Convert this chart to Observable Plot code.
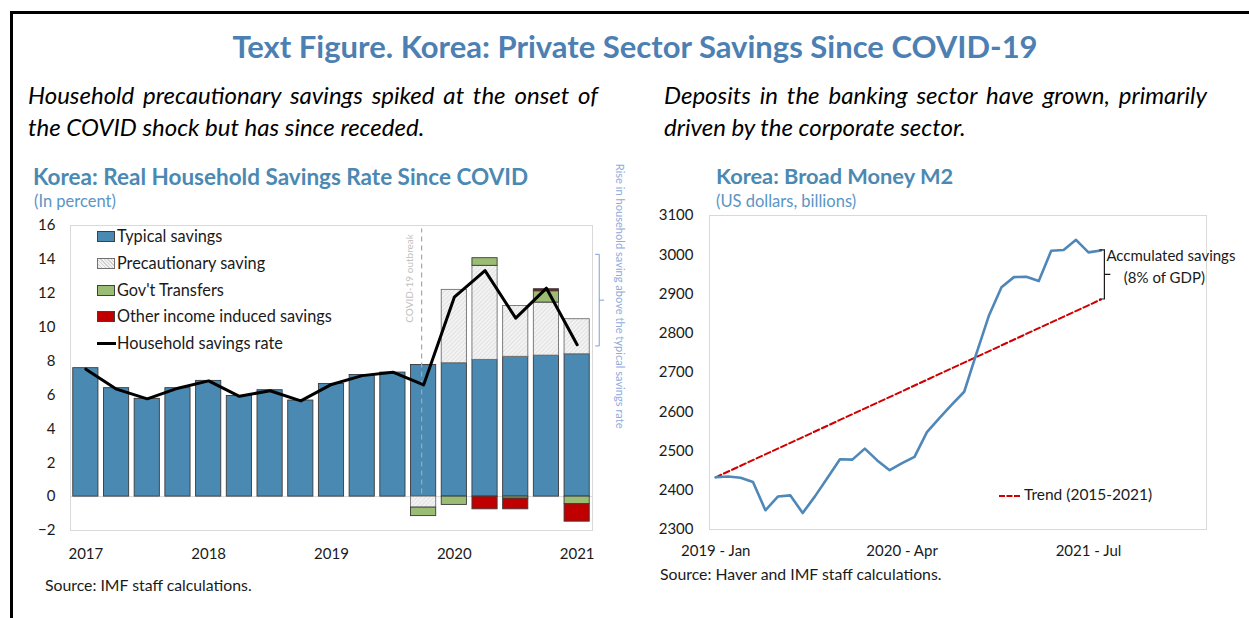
<!DOCTYPE html>
<html>
<head>
<meta charset="utf-8">
<script src="https://cdn.jsdelivr.net/npm/d3@7"></script>
<script src="https://cdn.jsdelivr.net/npm/@observablehq/plot@0.6"></script>
<style>
  html, body { margin: 0; padding: 0; background: #fff; }
  #page { position: relative; width: 1249px; height: 618px; overflow: hidden; font-family: Lato, "Open Sans", sans-serif; color: #000; }
  .abs { position: absolute; white-space: nowrap; line-height: 1.2; }
  .title { font-weight: 700; color: #4d80b2; font-size: 31px; }
  .lead { font-style: italic; font-size: 24px; }
  .lead.just { text-align: justify; text-align-last: justify; }
  .ctitle { font-weight: 700; color: #4b89b3; font-size: 22.5px; }
  .csub { color: #5b95c4; font-size: 16.5px; }
  .src { font-size: 15.8px; color: #1a1a1a; }
  .leg { font-size: 16.3px; color: #1a1a1a; }
  .sw { position: absolute; width: 18px; height: 11px; box-sizing: border-box; border: 1px solid #404040; }
  svg { position: absolute; overflow: visible; }
</style>
</head>
<body>
<div id="page">
  <div class="abs" style="left:10px;top:11px;width:1239px;height:3px;background:#000"></div>
  <div class="abs" style="left:10px;top:11px;width:3px;height:607px;background:#000"></div>

  <div class="abs title" style="left:0;width:1270px;text-align:center;top:28px">Text Figure. Korea: Private Sector Savings Since COVID-19</div>

  <div class="abs lead just" style="left:28px;top:81px;width:570px">Household precautionary savings spiked at the onset of</div>
  <div class="abs lead" style="left:28px;top:113px">the COVID shock but has since receded.</div>
  <div class="abs lead just" style="left:664px;top:81px;width:543px">Deposits in the banking sector have grown, primarily</div>
  <div class="abs lead" style="left:664px;top:113px">driven by the corporate sector.</div>

  <div class="abs ctitle" style="left:33px;top:163px">Korea: Real Household Savings Rate Since COVID</div>
  <div class="abs csub" style="left:34px;top:192px">(In percent)</div>
  <div class="abs ctitle" style="left:716px;top:163px;font-size:21.8px">Korea: Broad Money M2</div>
  <div class="abs csub" style="left:716px;top:192px">(US dollars, billions)</div>

  <div id="leftChart"></div>
  <div id="rightChart"></div>
  <div id="legendLeft"></div>

  <div class="abs" style="left:999px;top:495px;width:21px;height:0;border-top:2px dashed #d00000"></div>
  <div class="abs leg" style="left:1024px;top:485px;font-size:15.5px">Trend (2015-2021)</div>

  <div class="abs src" style="left:45px;top:576px">Source: IMF staff calculations.</div>
  <div class="abs src" style="left:660px;top:565px">Source: Haver and IMF staff calculations.</div>
</div>

<script>
// ---------------- Data: left chart (quarterly, percent) ----------------
const quarters = ["2017Q1","2017Q2","2017Q3","2017Q4","2018Q1","2018Q2","2018Q3","2018Q4",
                  "2019Q1","2019Q2","2019Q3","2019Q4","2020Q1","2020Q2","2020Q3","2020Q4","2021Q1"];
const typicalSavings      = [7.58, 6.40, 5.77, 6.40, 6.83, 5.94, 6.28, 5.67, 6.65, 7.18, 7.32, 7.77, 7.87, 8.07, 8.25, 8.32, 8.40];
const precautionarySaving = [0, 0, 0, 0, 0, 0, 0, 0, 0, 0, 0, -0.65, 4.33, 5.55, 3.00, 3.13, 2.07];
const govTransfers        = [0, 0, 0, 0, 0, 0, 0, 0, 0, 0, 0, -0.50, -0.49, 0.45, -0.12, 0.67, -0.45];
const otherIncomeSavings  = [0, 0, 0, 0, 0, 0, 0, 0, 0, 0, 0, 0, 0, -0.75, -0.63, 0.12, -1.03];
const householdSavingsRate = [7.52, 6.34, 5.77, 6.40, 6.83, 5.92, 6.25, 5.65, 6.62, 7.14, 7.34, 6.59, 11.77, 13.34, 10.53, 12.30, 8.96];
const savingsSeries = ["Typical savings", "Precautionary saving", "Gov't Transfers", "Other income induced savings"];
const lineSeries = "Household savings rate";
const yearTickQuarters = ["2017Q1","2018Q1","2019Q1","2020Q1","2021Q1"];
const yearTickLabels   = ["2017","2018","2019","2020","2021"];
const leftYTicks = [-2, 0, 2, 4, 6, 8, 10, 12, 14, 16];
const covidQuarter = "2019Q4";

// ---------------- Data: right chart (monthly, US$ bn) ----------------
const m2Values = [2433, 2435, 2432, 2421, 2349, 2384, 2387, 2342, 2385, 2432, 2479, 2478,
                  2506, 2476, 2451, 2469, 2485, 2548, 2584, 2618, 2651, 2750, 2846, 2917,
                  2943, 2944, 2933, 3010, 3012, 3038, 3006, 3011];   // 2019-Jan .. 2021-Aug
const trendMonthIndex = [0, 31];
const trendValues = [2433, 2886];
const monthTickIndex  = [0, 15, 30];
const monthTickLabels = ["2019 - Jan", "2020 - Apr", "2021 - Jul"];
const rightYTicks = [2300, 2400, 2500, 2600, 2700, 2800, 2900, 3000, 3100];
const monthCategories = 40;

// ---------------- Styles ----------------
const seriesFill = {
  "Typical savings": "#4a89b1",
  "Precautionary saving": "url(#hatch)",
  "Gov't Transfers": "#9bbd73",
  "Other income induced savings": "#c00000"
};
const seriesStroke = {
  "Typical savings": "#3a3a3a",
  "Precautionary saving": "#707070",
  "Gov't Transfers": "#3a3a3a",
  "Other income induced savings": "#3a3a3a"
};

// ---------------- Left chart ----------------
const long = [];
[typicalSavings, precautionarySaving, govTransfers, otherIncomeSavings].forEach((arr, s) => {
  arr.forEach((v, i) => { if (v !== 0) long.push({q: quarters[i], series: savingsSeries[s], value: v}); });
});

const left = Plot.plot({
  width: 640, height: 430,
  marginLeft: 70, marginRight: 48, marginTop: 75, marginBottom: 50,
  style: {fontFamily: "Lato, sans-serif", fontSize: "15px", color: "#1a1a1a", background: "transparent"},
  x: {domain: quarters, paddingInner: 0.18, paddingOuter: 0.09, round: false, label: null,
      ticks: yearTickQuarters, tickFormat: q => yearTickLabels[yearTickQuarters.indexOf(q)] ?? "",
      tickSize: 0, tickPadding: 18},
  y: {domain: [-2, 16], ticks: leftYTicks, label: null, tickSize: 0, tickPadding: 15},
  color: {type: "identity"},
  marks: [
    Plot.frame({stroke: "#d9d9d9"}),
    Plot.ruleY([0], {stroke: "#d9d9d9"}),
    Plot.barY(long, Plot.stackY({
      x: "q", y: "value", z: "series",
      fill: d => seriesFill[d.series], stroke: d => seriesStroke[d.series], strokeWidth: 0.9
    })),
    Plot.ruleX([covidQuarter], {y1: 0.15, y2: 15.8, stroke: "#a6a6a6", strokeWidth: 1.2, strokeDasharray: "5,4", dx: -2}),
    Plot.lineY(householdSavingsRate, {x: (d, i) => quarters[i], y: d => d, stroke: "#000", strokeWidth: 3})
  ]
});
left.style.left = "0px"; left.style.top = "150px";
document.getElementById("leftChart").appendChild(left);

// hatch pattern + annotations (left chart)
{
  const svg = d3.select(left);
  const defs = svg.insert("defs", ":first-child");
  const p = defs.append("pattern").attr("id", "hatch").attr("patternUnits", "userSpaceOnUse")
    .attr("width", 3).attr("height", 3).attr("patternTransform", "rotate(45)");
  p.append("rect").attr("width", 3).attr("height", 3).attr("fill", "#f3f3f3");
  p.append("line").attr("x1", 0).attr("y1", 0).attr("x2", 0).attr("y2", 3).attr("stroke", "#cfcfcf").attr("stroke-width", 1);

  const xs = left.scale("x"), ys = left.scale("y");
  const lastQ = quarters[quarters.length - 1];
  const bx = xs.apply(lastQ) + xs.bandwidth + 10;
  const yTop = ys.apply(14.27), yBot = ys.apply(8.86), yMid = (yTop + yBot) / 2;
  svg.append("path")
    .attr("d", `M${bx - 4},${yTop} H${bx} V${yBot} H${bx - 4} M${bx},${yMid} H${bx + 5}`)
    .attr("fill", "none").attr("stroke", "#7f9fd6").attr("stroke-width", 1);
  svg.append("text")
    .attr("transform", `translate(${bx + 20},${ys.apply(11.8)}) rotate(90)`)
    .attr("text-anchor", "middle").attr("dominant-baseline", "middle")
    .attr("font-family", "Lato, sans-serif").attr("font-size", 11.1).attr("fill", "#8eaadb")
    .text("Rise in household saving above the typical savings rate");

  const cx = xs.apply(covidQuarter) + xs.bandwidth / 2 - 2;
  svg.append("text")
    .attr("transform", `translate(${cx - 11},${ys.apply(12.85)}) rotate(-90)`)
    .attr("text-anchor", "middle").attr("dominant-baseline", "middle")
    .attr("font-family", "Lato, sans-serif").attr("font-size", 10).attr("fill", "#bfbfbf")
    .text("COVID-19 outbreak");
}

// legend (left chart)
{
  const lg = document.getElementById("legendLeft");
  const rows = [...savingsSeries, lineSeries];
  const centers = [236.5, 263.3, 290.1, 316.9, 343.5];
  rows.forEach((name, i) => {
    const c = centers[i];
    if (i < 4) {
      const sw = document.createElement("div");
      sw.className = "sw";
      sw.style.left = "97px"; sw.style.top = (c - 5.5) + "px";
      if (name === "Precautionary saving") {
        sw.style.background = "repeating-linear-gradient(45deg,#cfcfcf 0 1px,#f3f3f3 1px 2.5px)";
        sw.style.borderColor = "#707070";
      } else sw.style.background = seriesFill[name];
      lg.appendChild(sw);
    } else {
      const ln = document.createElement("div");
      ln.className = "abs";
      ln.style.cssText = `left:97px;top:${c - 1.5}px;width:19px;height:3px;background:#000`;
      lg.appendChild(ln);
    }
    const t = document.createElement("div");
    t.className = "abs leg";
    t.style.left = "117px"; t.style.top = (c - 10.5) + "px";
    t.textContent = name;
    lg.appendChild(t);
  });
}

// ---------------- Right chart ----------------
const right = Plot.plot({
  width: 609, height: 430,
  marginLeft: 69, marginRight: 43, marginTop: 65, marginBottom: 51,
  style: {fontFamily: "Lato, sans-serif", fontSize: "15px", color: "#1a1a1a", background: "transparent"},
  x: {domain: [-0.5, monthCategories - 0.5], ticks: monthTickIndex,
      tickFormat: i => monthTickLabels[monthTickIndex.indexOf(i)] ?? "", tickSize: 0, tickPadding: 16, label: null},
  y: {domain: [2300, 3100], ticks: rightYTicks, tickFormat: d => String(d), tickSize: 0, tickPadding: 16, label: null},
  marks: [
    Plot.frame({stroke: "#d9d9d9"}),
    Plot.line(trendValues, {x: (d, i) => trendMonthIndex[i], y: d => d, stroke: "#d00000", strokeWidth: 2, strokeDasharray: "6,3"}),
    Plot.line(m2Values, {x: (d, i) => i, y: d => d, stroke: "#4e87b8", strokeWidth: 2.6})
  ]
});
right.style.left = "640px"; right.style.top = "150px";
document.getElementById("rightChart").appendChild(right);

{
  const svg = d3.select(right);
  const xs = right.scale("x"), ys = right.scale("y");
  const lastI = m2Values.length - 1;
  const bx = xs.apply(lastI) + 4;
  const yTop = ys.apply(m2Values[lastI]), yBot = ys.apply(trendValues[trendValues.length - 1]);
  const yMid = (yTop + yBot) / 2;
  svg.append("path")
    .attr("d", `M${bx - 5},${yTop} H${bx} V${yBot} H${bx - 5} M${bx},${yMid} H${bx + 6}`)
    .attr("fill", "none").attr("stroke", "#1a1a1a").attr("stroke-width", 1.2);
  svg.append("text").attr("x", bx + 2).attr("y", yTop + 7).attr("text-anchor", "start").attr("dominant-baseline", "middle")
    .attr("font-family", "Lato, sans-serif").attr("font-size", 15).attr("fill", "#1a1a1a")
    .text("Accmulated savings");
  svg.append("text").attr("x", bx + 60).attr("y", yTop + 29).attr("text-anchor", "middle").attr("dominant-baseline", "middle")
    .attr("font-family", "Lato, sans-serif").attr("font-size", 15).attr("fill", "#1a1a1a")
    .text("(8% of GDP)");
}
</script>
</body>
</html>
